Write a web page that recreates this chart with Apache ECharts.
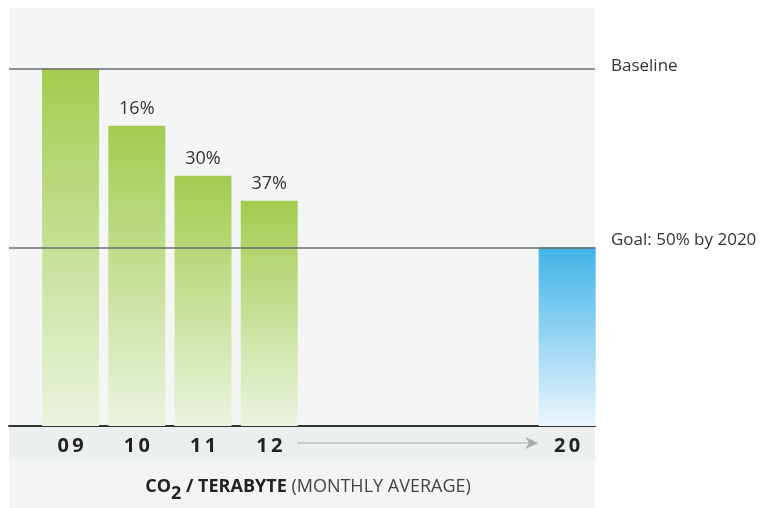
<!DOCTYPE html>
<html>
<head>
<meta charset="utf-8">
<script src="https://cdn.jsdelivr.net/npm/echarts@6/dist/echarts.min.js"></script>
<style>
  html, body { margin: 0; padding: 0; background: #fff; }
</style>
</head>
<body>
<div id="main" style="width: 761px;height:508px;"></div>
<script type="text/javascript">
    // 数据
    var categories = ['09', '10', '11', '12', '20'];
    var slots = [0, 1, 2, 3, 7.5];          // 20 sits after the axis break
    var values = [100, 84, 70, 63, 50];     // CO2 per terabyte, baseline = 100
    var baseline = 100;
    var goal = 50;

    var font = '"Open Sans", "Noto Sans", sans-serif';

    var greenGrad = new echarts.graphic.LinearGradient(0, 0, 0, 1, [
        { offset: 0, color: '#a2cc4e' },
        { offset: 1, color: '#ebf4df' }
    ]);
    var blueGrad = new echarts.graphic.LinearGradient(0, 0, 0, 1, [
        { offset: 0, color: '#3fb4e8' },
        { offset: 1, color: '#eaf6fd' }
    ]);

    var panels = [
        { type: 'rect', z: -10, shape: { x: 9, y: 8, width: 586, height: 418 }, style: { fill: '#f4f6f5' } },
        { type: 'rect', z: -10, shape: { x: 9, y: 426, width: 586, height: 33 }, style: { fill: '#eceff0' } },
        { type: 'rect', z: -10, shape: { x: 9, y: 459, width: 586, height: 49 }, style: { fill: '#f3f4f4' } }
    ];

    var myChart = echarts.init(document.getElementById('main'));

    var option = {
        animation: false,
        backgroundColor: '#ffffff',
        textStyle: { fontFamily: font },
        title: {
            text: '{b|CO}{sub|2}{b| / TERABYTE} {r|(MONTHLY AVERAGE)}',
            left: 303,
            textAlign: 'center',
            top: 473,
            textStyle: {
                fontWeight: 'normal',
                rich: {
                    b: { fontFamily: font, fontSize: 18, fontWeight: 'bold', color: '#222', lineHeight: 22, verticalAlign: 'top' },
                    sub: { fontFamily: font, fontSize: 18, fontWeight: 'bold', color: '#222', lineHeight: 22, padding: [7, 0, 0, 0], verticalAlign: 'top' },
                    r: { fontFamily: font, fontSize: 18, fontWeight: 'normal', color: '#444', lineHeight: 22, verticalAlign: 'top' }
                }
            }
        },
        graphic: panels,
        grid: { left: 9, right: 166, top: 68.5, bottom: 82 },
        xAxis: {
            type: 'value',
            min: -0.93,
            max: 7.92,
            splitLine: { show: false },
            axisTick: { show: false },
            axisLine: { show: true, onZero: false, lineStyle: { color: '#333', width: 2 } },
            axisLabel: {
                customValues: slots,
                margin: 10,
                color: '#222',
                fontSize: 20,
                fontWeight: 'bold',
                fontFamily: font,
                formatter: function (v) {
                    var i = slots.indexOf(v);
                    return i < 0 ? '' : categories[i].split('').join('\u2009');
                }
            }
        },
        yAxis: {
            type: 'value',
            min: 0,
            max: baseline,
            show: false,
            splitLine: { show: false }
        },
        series: [{
            type: 'bar',
            barWidth: 57,
            data: values.map(function (v, i) {
                return {
                    value: [slots[i], v],
                    itemStyle: { color: i === values.length - 1 ? blueGrad : greenGrad },
                    label: { show: i > 0 && i < values.length - 1 }
                };
            }),
            label: {
                position: 'top',
                distance: 8,
                fontSize: 18,
                color: '#333',
                fontFamily: font,
                formatter: function (p) {
                    return (baseline - p.value[1]) + '%';
                }
            },
            markLine: {
                silent: true,
                symbol: 'none',
                lineStyle: { color: '#6e6e6e', width: 1.5, type: 'solid' },
                label: {
                    position: 'end',
                    distance: 16,
                    fontSize: 17,
                    color: '#333',
                    fontFamily: font
                },
                data: [
                    { yAxis: baseline, label: { formatter: '{t|Baseline}', rich: { t: { fontSize: 17, color: '#333', fontFamily: font, padding: [0, 0, 4, 0] } } } },
                    { yAxis: goal, label: { formatter: '{t|Goal: 50% by 2020}', rich: { t: { fontSize: 17, color: '#333', fontFamily: font, padding: [0, 0, 15, 0] } } } }
                ]
            }
        }]
    };

    myChart.setOption(option);

    // axis break arrow between 12 and 20
    var half = 28;
    var x0 = myChart.convertToPixel({ xAxisIndex: 0 }, slots[3]) + half;
    var x1 = myChart.convertToPixel({ xAxisIndex: 0 }, slots[4]) - half - 1;
    var ay = 443;
    myChart.setOption({
        graphic: panels.concat([
            { type: 'line', shape: { x1: x0, y1: ay, x2: x1 - 6, y2: ay }, style: { stroke: '#a8aaab', lineWidth: 1.2 } },
            { type: 'polygon', shape: { points: [[x1, ay], [x1 - 13, ay - 6], [x1 - 9, ay], [x1 - 13, ay + 6]] }, style: { fill: '#a8aaab' } }
        ])
    });
</script>
</body>
</html>
